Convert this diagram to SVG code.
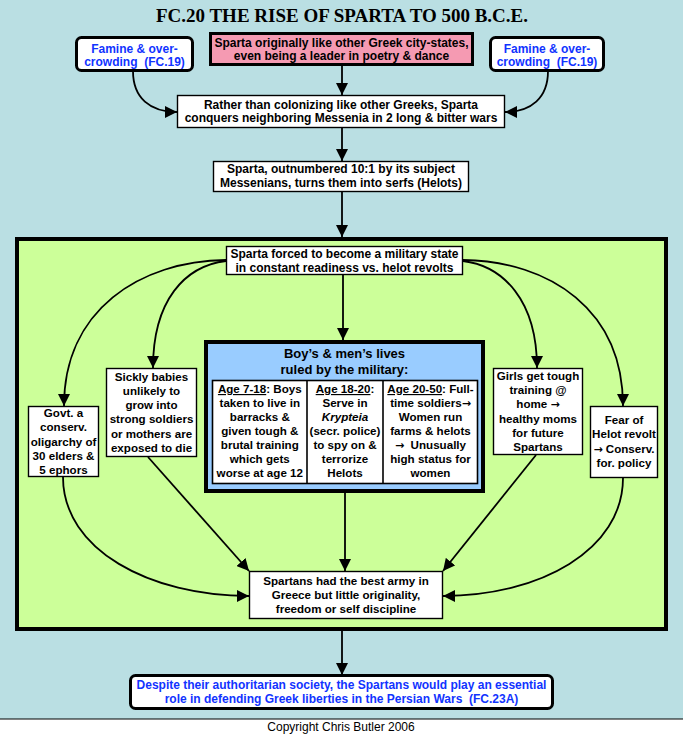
<svg xmlns="http://www.w3.org/2000/svg" width="683" height="736" viewBox="0 0 683 736">
<style>
.t{font-family:"Liberation Sans",Arial,sans-serif;font-weight:bold;font-size:12px;fill:#000;text-anchor:middle}
.s{font-size:11.6px}
.bl{fill:#1133FF}
.box{fill:#fff;stroke:#000;stroke-width:1.4}
.rb{fill:#fff;stroke:#000;stroke-width:3}
.c{fill:none;stroke:#000;stroke-width:1.8;marker-end:url(#ah)}
.u{text-decoration:underline}
.ar{font-family:"DejaVu Sans",sans-serif;font-size:11px}
</style>
<defs>
<marker id="ah" markerUnits="userSpaceOnUse" markerWidth="12" markerHeight="12" viewBox="0 0 12 12" refX="12" refY="6" orient="auto">
<path d="M0,0 L12,6 L0,12 z" fill="#000"/>
</marker>
</defs>
<rect x="0" y="0" width="683" height="736" fill="#BADFE3"/>
<rect x="0" y="719" width="683" height="17" fill="#fff"/>
<line x1="0" y1="719" x2="683" y2="719" stroke="#000" stroke-width="1"/>
<text x="342" y="22" font-family="Liberation Serif,'Times New Roman',serif" font-weight="bold" font-size="18.5" text-anchor="middle" textLength="372" lengthAdjust="spacingAndGlyphs">FC.20 THE RISE OF SPARTA TO 500 B.C.E.</text>
<text x="341" y="731" font-family="Liberation Sans,Arial,sans-serif" font-size="12" text-anchor="middle">Copyright Chris Butler 2006</text>

<g id="frame">
<rect x="17" y="239" width="649" height="390" fill="#CCFF99" stroke="#000" stroke-width="4"/>
</g>

<g id="famineL">
<rect class="rb" x="76.5" y="37.5" width="116" height="33" rx="5"/>
<text class="t bl" x="134.5" y="52.5">Famine &amp; over-</text>
<text class="t bl" x="134.5" y="66" xml:space="preserve">crowding  (FC.19)</text>
</g>
<g id="pink">
<rect x="210.5" y="33.5" width="262" height="31" fill="#F59AB2" stroke="#000" stroke-width="3"/>
<text class="t" x="341.5" y="46.5">Sparta originally like other Greek city-states,</text>
<text class="t" x="341.5" y="60">even being a leader in poetry &amp; dance</text>
</g>
<g id="famineR">
<rect class="rb" x="490.5" y="37.5" width="113" height="33" rx="5"/>
<text class="t bl" x="547" y="52.5">Famine &amp; over-</text>
<text class="t bl" x="547" y="66" xml:space="preserve">crowding  (FC.19)</text>
</g>
<g id="conquer">
<rect class="box" x="177.5" y="95.5" width="327" height="32"/>
<text class="t" x="341" y="108.5">Rather than colonizing like other Greeks, Sparta</text>
<text class="t" x="341" y="122">conquers neighboring Messenia in 2 long &amp; bitter wars</text>
</g>
<g id="helots">
<rect class="box" x="213.5" y="161.5" width="255" height="30"/>
<text class="t" x="341" y="172.5">Sparta, outnumbered 10:1 by its subject</text>
<text class="t" x="341" y="186.5">Messenians, turns them into serfs (Helots)</text>
</g>
<g id="military">
<rect class="box" x="226.5" y="246.5" width="236" height="28"/>
<text class="t" x="344.5" y="257.5">Sparta forced to become a military state</text>
<text class="t" x="344.5" y="271.5">in constant readiness vs. helot revolts</text>
</g>
<g id="govt">
<rect class="box" x="28.5" y="406.5" width="70" height="70"/>
<text class="t s" x="63.5" y="417">Govt. a</text>
<text class="t s" x="63.5" y="431.3">conserv.</text>
<text class="t s" x="63.5" y="445.5">oligarchy of</text>
<text class="t s" x="63.5" y="459.8">30 elders &amp;</text>
<text class="t s" x="63.5" y="474">5 ephors</text>
</g>
<g id="sickly">
<rect class="box" x="106.5" y="368.5" width="90" height="88"/>
<text class="t s" x="151.5" y="381">Sickly babies</text>
<text class="t s" x="151.5" y="395">unlikely to</text>
<text class="t s" x="151.5" y="409">grow into</text>
<text class="t s" x="151.5" y="423.3">strong soldiers</text>
<text class="t s" x="151.5" y="437.5">or mothers are</text>
<text class="t s" x="151.5" y="451.5">exposed to die</text>
</g>
<g id="boys">
<rect x="206" y="342" width="277" height="149" fill="#99CCFF" stroke="#000" stroke-width="4"/>
<text class="t" x="344.5" y="358" style="font-size:13px">Boy’s &amp; men’s lives</text>
<text class="t" x="344.5" y="374" style="font-size:13px">ruled by the military:</text>
<rect x="212.5" y="380.5" width="265" height="103" fill="#fff" stroke="#000" stroke-width="1.6"/>
<line x1="307" y1="380.5" x2="307" y2="483.5" stroke="#000" stroke-width="1.6"/>
<line x1="383" y1="380.5" x2="383" y2="483.5" stroke="#000" stroke-width="1.6"/>
<text class="t s" x="259.8" y="393"><tspan class="u">Age 7-18</tspan>: Boys</text>
<text class="t s" x="259.8" y="407">taken to live in</text>
<text class="t s" x="259.8" y="421">barracks &amp;</text>
<text class="t s" x="259.8" y="435">given tough &amp;</text>
<text class="t s" x="259.8" y="449">brutal training</text>
<text class="t s" x="259.8" y="463">which gets</text>
<text class="t s" x="259.8" y="477">worse at age 12</text>
<text class="t s" x="345" y="393"><tspan class="u">Age 18-20</tspan>:</text>
<text class="t s" x="345" y="407">Serve in</text>
<text class="t s" x="345" y="421" font-style="italic">Krypteia</text>
<text class="t s" x="345" y="435">(secr. police)</text>
<text class="t s" x="345" y="449">to spy on &amp;</text>
<text class="t s" x="345" y="463">terrorize</text>
<text class="t s" x="345" y="477">Helots</text>
<text class="t s" x="430.5" y="393"><tspan class="u">Age 20-50</tspan>: Full-</text>
<text class="t s" x="430.5" y="407">time soldiers<tspan class="ar">→</tspan></text>
<text class="t s" x="430.5" y="421">Women run</text>
<text class="t s" x="430.5" y="435">farms &amp; helots</text>
<text class="t s" x="430.5" y="449" xml:space="preserve"><tspan class="ar">→</tspan>  Unusually</text>
<text class="t s" x="430.5" y="463">high status for</text>
<text class="t s" x="430.5" y="477">women</text>
</g>
<g id="girls">
<rect class="box" x="493.5" y="368.5" width="89" height="86"/>
<text class="t s" x="538" y="380">Girls get tough</text>
<text class="t s" x="538" y="394.2">training @</text>
<text class="t s" x="538" y="408.4">home <tspan class="ar">→</tspan></text>
<text class="t s" x="538" y="422.6">healthy moms</text>
<text class="t s" x="538" y="436.8">for future</text>
<text class="t s" x="538" y="451">Spartans</text>
</g>
<g id="fear">
<rect class="box" x="590.5" y="406.5" width="67" height="71"/>
<text class="t s" x="624" y="424">Fear of</text>
<text class="t s" x="624" y="438.4">Helot revolt</text>
<text class="t s" x="624" y="452.7"><tspan class="ar">→</tspan> Conserv.</text>
<text class="t s" x="624" y="467">for. policy</text>
</g>
<g id="army">
<rect class="box" x="249.5" y="571.5" width="193" height="47"/>
<text class="t s" x="346" y="585">Spartans had the best army in</text>
<text class="t s" x="346" y="599">Greece but little originality,</text>
<text class="t s" x="346" y="613">freedom or self discipline</text>
</g>
<g id="persian">
<rect class="rb" x="130.5" y="675.5" width="422" height="33" rx="5"/>
<text class="t bl" x="341.5" y="688.5">Despite their authoritarian society, the Spartans would play an essential</text>
<text class="t bl" x="341.5" y="703" xml:space="preserve">role in defending Greek liberties in the Persian Wars  (FC.23A)</text>
</g>

<g id="connectors">
<path class="c" d="M342,65 L342,95"/>
<path class="c" d="M133,71 C133,98 150,112 177,112"/>
<path class="c" d="M548,71 C548,98 531,112 505,112"/>
<path class="c" d="M342,128 L342,161"/>
<path class="c" d="M342,192 L342,237"/>
<path class="c" d="M226,260 C140,261 64,310 64,406"/>
<path class="c" d="M226,261 C185,266 153,300 153,368"/>
<path class="c" d="M463,261 C503,266 537,300 537,368"/>
<path class="c" d="M463,260 C550,261 623,310 623,406"/>
<path class="c" d="M343,275 L343,340"/>
<path class="c" d="M63,477 C63,550 150,596 249,596"/>
<path class="c" d="M623,478 C623,550 540,596 443,596"/>
<path class="c" d="M148,457 L249,571"/>
<path class="c" d="M536,455 L443,571"/>
<path class="c" d="M345,493 L345,571"/>
<path class="c" d="M342,631 L342,675"/>
</g>
</svg>
